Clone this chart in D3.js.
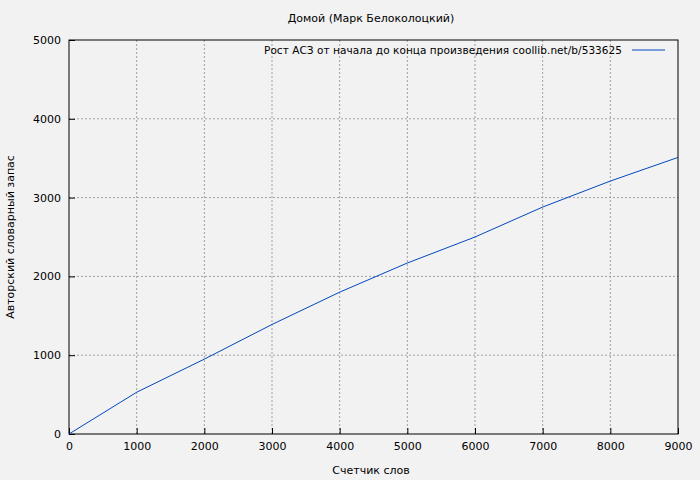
<!DOCTYPE html>
<html>
<head>
<meta charset="utf-8">
<script src="https://cdn.jsdelivr.net/npm/d3@7"></script>
<style>
body { margin: 0; background: #f2f2f2; }
text { font-family: "DejaVu Sans", sans-serif; font-size: 11px; fill: #000; }
.grid line { stroke: #a0a0a0; stroke-dasharray: 2,2; }
</style>
</head>
<body>
<svg id="chart" width="700" height="480"></svg>
<script>
// Word counter vs. author's vocabulary
var words = [0, 1000, 2000, 3000, 4000, 5000, 6000, 7000, 8000, 9000];
var vocab = [0, 530, 950, 1390, 1800, 2170, 2500, 2880, 3210, 3510];
var xTicks = [0, 1000, 2000, 3000, 4000, 5000, 6000, 7000, 8000, 9000];
var yTicks = [0, 1000, 2000, 3000, 4000, 5000];

var margin = { top: 40, right: 22, bottom: 46, left: 69 };
var width = 700 - margin.left - margin.right;
var height = 480 - margin.top - margin.bottom;

var svg = d3.select("#chart");
var g = svg.append("g").attr("transform", "translate(" + margin.left + "," + margin.top + ")");

var x = d3.scaleLinear().domain([0, 9000]).range([0, width]);
var y = d3.scaleLinear().domain([0, 5000]).range([height, 0]);

// grid
g.append("g").attr("class", "grid")
  .selectAll("line").data(xTicks.slice(1, -1)).join("line")
  .attr("x1", d => x(d)).attr("x2", d => x(d)).attr("y1", 0).attr("y2", height);
g.append("g").attr("class", "grid")
  .selectAll("line").data(yTicks.slice(1, -1)).join("line")
  .attr("x1", 0).attr("x2", width).attr("y1", d => y(d)).attr("y2", d => y(d));

// axes
var xAxis = g.append("g").attr("transform", "translate(0," + height + ")")
  .call(d3.axisBottom(x).tickValues(xTicks).tickSize(-6).tickPadding(8).tickFormat(d3.format("d")));
var yAxis = g.append("g")
  .call(d3.axisLeft(y).tickValues(yTicks).tickSize(-6).tickPadding(8).tickFormat(d3.format("d")));
[xAxis, yAxis].forEach(a => {
  a.select(".domain").remove();
  a.selectAll("line").attr("stroke", "#000");
  a.selectAll("text").style("font-family", "DejaVu Sans").style("font-size", "11px");
});
g.append("rect").attr("width", width).attr("height", height)
  .attr("fill", "none").attr("stroke", "#000");

// line
g.append("path").datum(words.map((w, i) => [w, vocab[i]]))
  .attr("fill", "none").attr("stroke", "#0047c0").attr("stroke-width", 1)
  .attr("d", d3.line().x(d => x(d[0])).y(d => y(d[1])));

// legend
g.append("text").attr("x", 553).attr("y", 14).attr("text-anchor", "end")
  .style("font-size", "10.5px").attr("textLength", 358)
  .text("Рост АСЗ от начала до конца произведения  coollib.net/b/533625");
g.append("line").attr("x1", 563).attr("x2", 596).attr("y1", 10).attr("y2", 10)
  .attr("stroke", "#0047c0");

// titles
svg.append("text").attr("x", 371).attr("y", 22).attr("text-anchor", "middle")
  .text("Домой (Марк Белоколоцкий)");
svg.append("text").attr("x", 371).attr("y", 474).attr("text-anchor", "middle")
  .text("Счетчик слов");
svg.append("text").attr("transform", "translate(14,237) rotate(-90)").attr("text-anchor", "middle")
  .text("Авторский словарный запас");
</script>
</body>
</html>
